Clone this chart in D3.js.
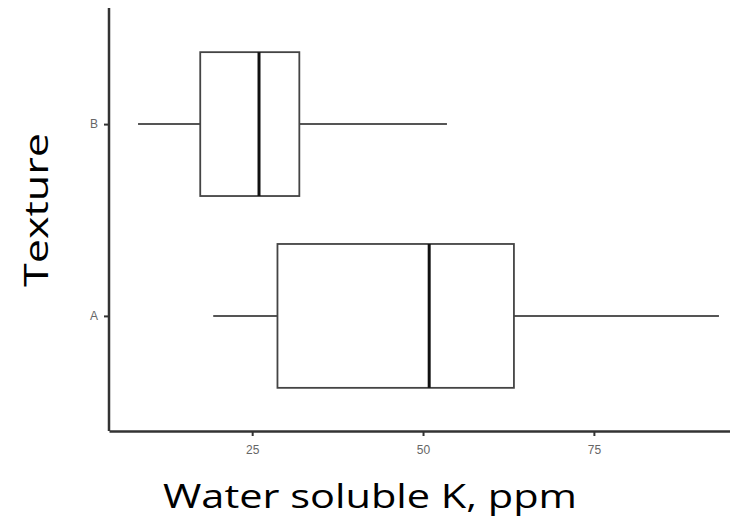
<!DOCTYPE html>
<html><head><meta charset="utf-8">
<script src="https://cdn.jsdelivr.net/npm/d3@7"></script>
<style>body{margin:0;background:#fff}svg{display:block}</style>
</head><body>
<svg id="c" width="730" height="528"></svg>
<script>
const categories = ["A", "B"];
const whiskerLow = [19.3, 8.3];
const q1 = [28.7, 17.4];
const median = [50.9, 26.0];
const q3 = [63.3, 31.9];
const whiskerHigh = [93.3, 53.5];
const xTicks = [25, 50, 75];

(function () {
const svg = d3.select("#c");
const mLeft = 109, mTop = 9, mBottom = 431;
const x = d3.scaleLinear().domain([4.05, 97.55]).range([mLeft, 748]);
const y = d3.scaleLinear().domain([0.4, 2.6]).range([mBottom, mTop]);
const boxH = y(0) - y(0.75);

const data = categories.map((c, i) => ({c, pos: i + 1, lo: whiskerLow[i], q1: q1[i], med: median[i], q3: q3[i], hi: whiskerHigh[i]}));

const g = svg.append("g");
data.forEach(d => {
  const cy = y(d.pos);
  g.append("line").attr("x1", x(d.lo)).attr("x2", x(d.q1)).attr("y1", cy).attr("y2", cy)
    .attr("stroke", "#555").attr("stroke-width", 2);
  g.append("line").attr("x1", x(d.q3)).attr("x2", x(d.hi)).attr("y1", cy).attr("y2", cy)
    .attr("stroke", "#555").attr("stroke-width", 2);
  g.append("rect").attr("x", x(d.q1)).attr("y", cy - boxH / 2).attr("width", x(d.q3) - x(d.q1)).attr("height", boxH)
    .attr("fill", "#fff").attr("stroke", "#444").attr("stroke-width", 1.8);
  g.append("line").attr("x1", x(d.med)).attr("x2", x(d.med)).attr("y1", cy - boxH / 2).attr("y2", cy + boxH / 2)
    .attr("stroke", "#111").attr("stroke-width", 3);
});

const xAxis = svg.append("g").attr("transform", `translate(0,${mBottom})`)
  .call(d3.axisBottom(x).tickValues(xTicks).tickSize(5).tickPadding(9).tickSizeOuter(0));
xAxis.select(".domain").attr("stroke", "#333").attr("stroke-width", 2.5);
xAxis.selectAll(".tick line").attr("stroke", "#333").attr("stroke-width", 2);
xAxis.selectAll(".tick text").attr("fill", "#666").attr("font-size", 12).attr("font-family", "Liberation Sans, Arial, sans-serif");

const yBand = d3.scalePoint().domain(categories).range([y(1), y(2)]);
const yAxis = svg.append("g").attr("transform", `translate(${mLeft},0)`)
  .call(d3.axisLeft(yBand).tickSize(5).tickPadding(6).tickSizeOuter(0));
yAxis.select(".domain").attr("d", `M0,${mTop - 1}V${mBottom}`).attr("stroke", "#333").attr("stroke-width", 2.5);
yAxis.selectAll(".tick line").attr("stroke", "#333").attr("stroke-width", 2);
yAxis.selectAll(".tick text").attr("fill", "#666").attr("font-size", 12).attr("font-family", "Liberation Sans, Arial, sans-serif");

svg.append("text").attr("x", 370).attr("y", 508).attr("text-anchor", "middle")
  .attr("font-family", "'Open Sans', Lato, sans-serif").attr("font-size", 32).attr("fill", "#000")
  .attr("textLength", 414).attr("lengthAdjust", "spacingAndGlyphs")
  .text("Water soluble K, ppm");
svg.append("text").attr("transform", "translate(48,210) rotate(-90)").attr("text-anchor", "middle")
  .attr("font-family", "'Open Sans', Lato, sans-serif").attr("font-size", 32).attr("fill", "#000")
  .attr("textLength", 154).attr("lengthAdjust", "spacingAndGlyphs")
  .text("Texture");
})();
</script>
</body></html>
